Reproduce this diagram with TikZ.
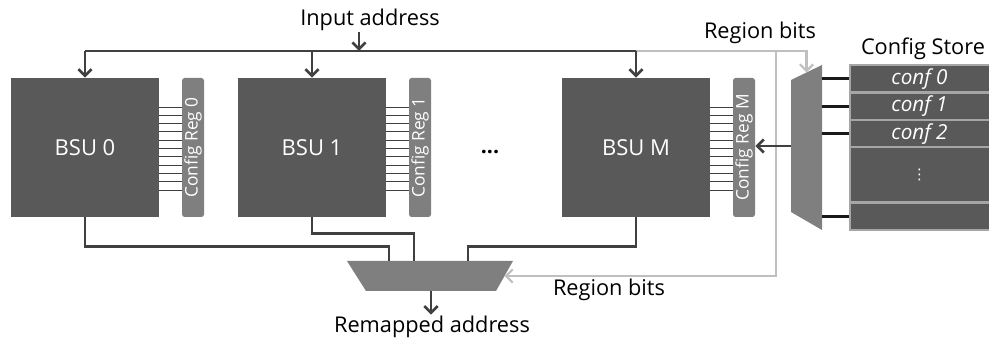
\documentclass[tikz,border=0pt]{standalone}
\usepackage{fontspec}
\setmainfont{Open Sans}
\newfontfamily\symfont{DejaVu Sans}
\usetikzlibrary{arrows.meta,calc}
\definecolor{bsugray}{HTML}{595959}
\definecolor{reggray}{HTML}{7F7F7F}
\definecolor{busgray}{HTML}{404040}
\definecolor{litegray}{HTML}{BFBFBF}
\definecolor{edgegray}{HTML}{A6A6A6}
\tikzset{
  bsu/.style={fill=bsugray, text=white, minimum width=111pt, minimum height=104.25pt, inner sep=0pt, font=\fontsize{16.5}{19}\selectfont},
  creg/.style={fill=reggray, text=white, rounded corners=2pt, rotate=90, minimum width=104.25pt, minimum height=16.5pt, inner sep=0pt, font=\fontsize{13}{15}\selectfont},
  conf/.style={fill=bsugray, draw=edgegray, line width=1.5pt, text=white, minimum width=105pt, minimum height=20.6pt, inner sep=0pt, font=\fontsize{15.5}{17}\selectfont\itshape},
  bus/.style={draw=busgray, line width=2pt},
  gbus/.style={draw=litegray, line width=1.6pt},
  wire/.style={draw=busgray, line width=0.7pt},
  link/.style={draw=black!90, line width=2pt},
  lbl/.style={font=\fontsize{16.3}{19}\selectfont, inner sep=1pt},
  >={Straight Barb[length=5pt,width=10pt]}
}
\begin{document}
\begin{tikzpicture}[x=0.75pt,y=-0.75pt]
\useasboundingbox (0,0) rectangle (989,341);
\foreach \n/\x in {0/85,1/312,M/636}{
  \node[bsu] (bsu\n) at (\x,147.5) {BSU \n};
  \node[creg] (reg\n) at (\x+108,147.5) {Config Reg \n};
  \foreach \y in {107,115.3,...,191}
    \draw[wire] (bsu\n.east |- 0,\y) -- (reg\n.north |- 0,\y);
}
\node[font=\fontsize{16}{18}\selectfont\bfseries] (dots) at (490,152) {...};
% config select mux
\fill[reggray] (791,80) coordinate (sm1) -- (822,65) coordinate (sm2)
  -- (822,230) coordinate (sm3) -- (791,212) coordinate (sm4) -- cycle;
\coordinate (smin) at ($(sm1)!0.5!(sm2)$);
\coordinate (smout) at ($(sm1)!0.5!(sm4)$);
% output mux
\fill[reggray] (347,261) coordinate (om1) -- (513,261) coordinate (om2)
  -- (496,291) coordinate (om3) -- (366,291) coordinate (om4) -- cycle;
\coordinate (omright) at ($(om2)!0.5!(om3)$);
\coordinate (omout) at ($(om3)!0.5!(om4)$);
% config store
\foreach \i/\y in {0/78.75,1/106.25,2/133.75}
  \node[conf] (conf\i) at (919.5,\y) {conf \i};
\node[conf, minimum height=41.25pt, font=\fontsize{11}{13}\symfont] (confdots) at (919.5,175) {⋮};
\node[conf] (conflast) at (919.5,216.25) {};
\node[lbl] (storelbl) at (923,49) {Config Store};
\foreach \r in {conf0,conf1,conf2,conflast}
  \draw[link] (\r.west) -- (\r.west -| sm2);
% region bits
\coordinate (inj) at (359,51);
\coordinate (gsplit) at (776,51);
\draw[gbus] (bsuM.north |- inj) -- (gsplit);
\draw[gbus,->] (gsplit) -| (smin);
\draw[gbus,->] (gsplit) |- (omright);
\node[lbl] (rbtop) at (760,33) {Region bits};
\node[lbl] (rbbot) at (609,290) {Region bits};
% input address
\node[lbl] (inlbl) at (370,20) {Input address};
\draw[bus] (bsu0.north |- inj) -- (bsuM.north |- inj);
\draw[bus,->] (inlbl.south -| inj) -- (inj);
\foreach \n in {0,1,M}
  \draw[bus,->] (bsu\n.north |- inj) -- (bsu\n.north);
\draw[bus,->] (smout) -- (smout -| regM.south);
% remapped address
\draw[bus] (bsu0.south) -- ++(0,29) -| (om1 -| 389,0);
\draw[bus] (bsu1.south) -- ++(0,16) -| (om1 -| 414,0);
\draw[bus] (bsuM.south) -- ++(0,29) -| (om1 -| 468,0);
\node[lbl] (outlbl) at (432,327) {Remapped address};
\draw[bus,->] (omout) -- (outlbl.north -| omout);
\end{tikzpicture}
\end{document}
